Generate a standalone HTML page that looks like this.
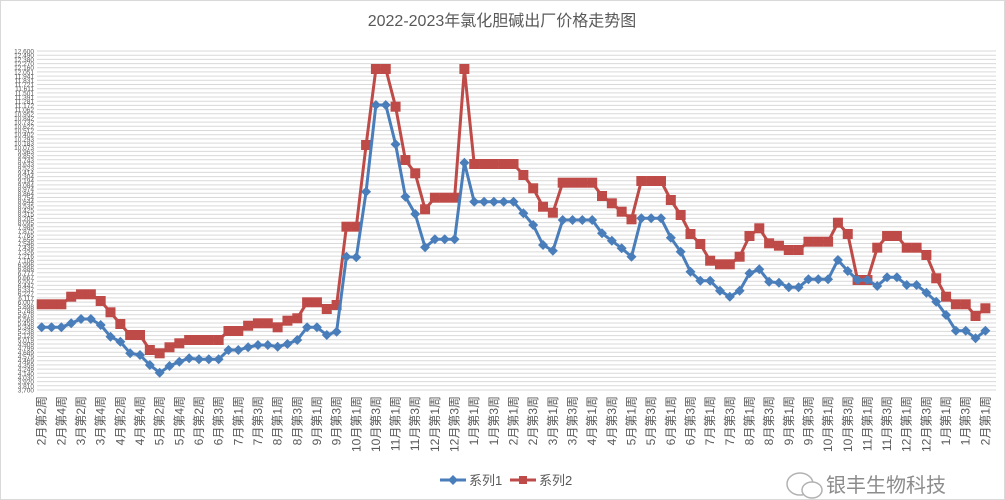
<!DOCTYPE html>
<html><head><meta charset="utf-8"><style>
html,body{margin:0;padding:0;background:#fff}
svg{display:block}
text{font-family:"Liberation Sans","Noto Sans CJK SC",sans-serif}
</style></head><body>
<svg id="c" width="1005" height="500" xmlns="http://www.w3.org/2000/svg">
<rect x="0.5" y="0.5" width="1004" height="499" fill="#fff" stroke="#d9d9d9"/>
<text x="502" y="26" text-anchor="middle" font-size="16" fill="#595959" font-family="Liberation Sans,Noto Sans CJK SC,sans-serif">2022-2023年氯化胆碱出厂价格走势图</text>
<g id="grid"></g><g id="ylab"></g><g id="xlab"></g><g id="series"></g>
<g id="legend">
<line x1="440" y1="480" x2="466" y2="480" stroke="#4a7ebb" stroke-width="3"/>
<polygon points="453,475 458,480 453,485 448,480" fill="#4a7ebb"/>
<text x="469" y="485" font-size="13" fill="#595959">系列1</text>
<line x1="510" y1="480" x2="536" y2="480" stroke="#be4b48" stroke-width="3"/>
<rect x="519" y="476" width="8" height="8" fill="#be4b48"/>
<text x="539" y="485" font-size="13" fill="#595959">系列2</text>
</g>
<g opacity="0.75">
<ellipse cx="800" cy="484" rx="13" ry="11" fill="none" stroke="#999" stroke-width="1.5"/>
<ellipse cx="812" cy="490" rx="10" ry="8" fill="#fff" stroke="#999" stroke-width="1.5"/>
<text x="826" y="492" font-size="20" fill="#666">银丰生物科技</text>
</g>
</svg>
<script>
var ns="http://www.w3.org/2000/svg";
function el(t,a,p,txt){var e=document.createElementNS(ns,t);for(var k in a)e.setAttribute(k,a[k]);if(txt!=null)e.textContent=txt;document.getElementById(p).appendChild(e);return e;}
var top0=51,bot=390,N=81;
for(var i=0;i<=N;i++){var y=top0+i*(bot-top0)/N;
el('line',{x1:37,x2:996,y1:y.toFixed(1),y2:y.toFixed(1),stroke:'#d9d9d9','stroke-width':1},'grid');
var v=Math.round(12600-i*8900/N);
el('text',{x:34,y:(y+2.5).toFixed(1),'text-anchor':'end','font-size':6.5,fill:'#595959'},'ylab',v.toLocaleString('en-US'));}
var labs=["2月第2周","2月第4周","3月第2周","3月第4周","4月第2周","4月第4周","5月第2周","5月第4周","6月第2周","6月第3周","7月第1周","7月第3周","8月第1周","8月第3周","9月第1周","9月第3周","10月第1周","10月第3周","11月第1周","11月第3周","12月第1周","12月第3周","1月第1周","1月第3周","2月第1周","2月第3周","3月第1周","3月第3周","4月第1周","4月第3周","5月第1周","5月第3周","6月第1周","6月第3周","7月第1周","7月第3周","8月第1周","8月第3周","9月第1周","9月第3周","10月第1周","10月第3周","11月第1周","11月第3周","12月第1周","12月第3周","1月第1周","1月第3周","2月第1周"];
function X(i){return 41.7+9.83*i;}
labs.forEach(function(l,j){var x=X(2*j)+4;
el('text',{x:0,y:0,transform:'translate('+x.toFixed(1)+',396) rotate(-90)','text-anchor':'end','font-size':12,fill:'#595959'},'xlab',l);});
var b=[327.3,327.3,327.3,323.3,319,319,325,336.7,341.7,353.3,355,365,372.7,366,361.7,358.3,359.3,359.3,359.3,350,350,347.3,345,345,346.7,344,340,327.3,327.3,335,331.7,
256.7,257.3,191.7,105,105,144.3,196.7,214,247.3,239.3,239.3,239.3,162.7,201.7,201.7,201.7,201.7,201.7,213.3,225,245,250.7,
220,220,220,220,233.3,240.7,248.3,256.7,218.3,218.3,218.3,237.7,251.7,271.7,280.7,280.7,290.7,296.7,290.7,273.3,269.3,281.7,282.7,
287.3,287.3,279.3,279.3,279.3,260,271,280,280,286,277.3,277.3,285,285,292.7,301.7,315,330.7,330.7,338.3,330.7];
var r=[304.3,304.3,304.3,296.7,294.3,294.3,301,312.3,324,335,335,350,353.3,347.3,343.3,340,340,340,340,331,331,325.7,323.3,323.3,327.3,320.7,318.3,302.3,302.3,309,305,
226.7,226.7,145,69,69,106.7,160,173.3,209.3,197.7,197.7,197.7,69,164,164,164,164,164,175,188.3,206.7,212.7,
182.7,182.7,182.7,182.7,196,203.3,211.7,219.3,181,181,181,200,215,234,244,260.7,264.3,264.3,256.7,236,228.3,243.3,245.7,
250,250,241.7,241.7,241.7,222.7,234,280,280,247.7,236,236,247.7,247.7,255,278.3,296.7,304.3,304.3,316,308.3];
function series(d,col,mk){var pts=d.map(function(y,i){return X(i).toFixed(1)+','+y;}).join(' ');
el('polyline',{points:pts,fill:'none',stroke:col,'stroke-width':3,'stroke-linejoin':'round'},'series');
d.forEach(function(y,i){var x=X(i);
if(mk=='d')el('polygon',{points:(x)+','+(y-5)+' '+(x+5)+','+y+' '+x+','+(y+5)+' '+(x-5)+','+y,fill:col},'series');
else el('rect',{x:x-5,y:y-5,width:10,height:10,fill:col},'series');});}
series(r,'#be4b48','s');series(b,'#4a7ebb','d');
</script>
</body></html>
